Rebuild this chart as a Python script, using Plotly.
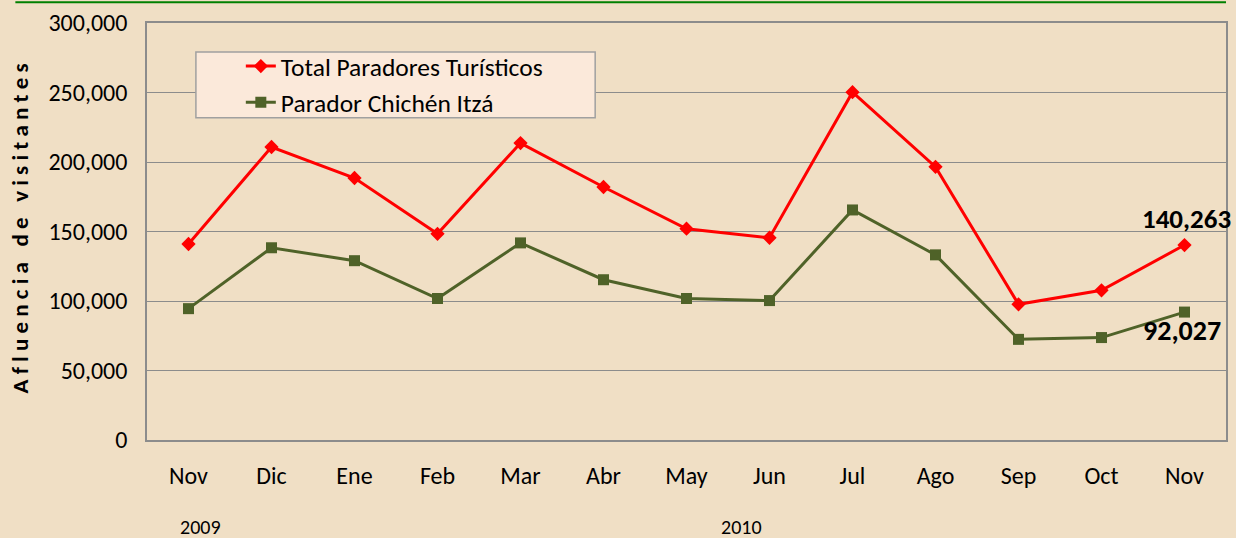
import plotly.graph_objects as go

months = ["Nov", "Dic", "Ene", "Feb", "Mar", "Abr", "May", "Jun", "Jul", "Ago", "Sep", "Oct", "Nov"]
total_paradores = [141000, 210800, 188500, 148300, 213600, 182000, 152000, 145500, 250200, 196500, 97600, 107700, 140263]
chichen_itza = [94500, 138300, 129000, 101800, 141800, 115300, 101800, 100300, 165500, 133200, 72400, 73700, 92027]
y_ticks = [0, 50000, 100000, 150000, 200000, 250000, 300000]
y_ticklabels = ["0", "50,000", "100,000", "150,000", "200,000", "250,000", "300,000"]
years = [("2009", 0.15), ("2010", 6.66)]

x = list(range(len(months)))
font = "Carlito, 'Open Sans', 'Liberation Sans', sans-serif"
BG = "#F0DFC5"

fig = go.Figure()
fig.add_trace(go.Scatter(
    x=x, y=total_paradores, name="Total Paradores Turísticos",
    mode="lines+markers", line=dict(color="#FF0000", width=3),
    marker=dict(symbol="diamond", size=11, color="#FF0000"),
))
fig.add_trace(go.Scatter(
    x=x, y=chichen_itza, name="Parador Chichén Itzá",
    mode="lines+markers", line=dict(color="#4F6228", width=3),
    marker=dict(symbol="square", size=11, color="#4F6228"),
))

fig.add_annotation(x=x[-1], y=total_paradores[-1], text="<b>{:,}</b>".format(total_paradores[-1]),
                   showarrow=False, xshift=2, yshift=27, font=dict(size=27, color="black", family=font))
fig.add_annotation(x=x[-1], y=chichen_itza[-1], text="<b>{:,}</b>".format(chichen_itza[-1]),
                   showarrow=False, xshift=-3, yshift=-18, font=dict(size=28, color="black", family=font))

for label, pos in years:
    fig.add_annotation(x=pos, y=0, xref="x", yref="paper", text=label, showarrow=False,
                       xanchor="center", yanchor="middle", yshift=-87,
                       font=dict(size=20, color="black", family=font))

fig.add_annotation(x=0, xref="paper", xshift=-127, y=0.5 + 3 / 418, yref="paper",
                   xanchor="center", yanchor="middle",
                   text="<b>A f l u e n c i a   d e   v i s i t a n t e s</b>",
                   textangle=-90, showarrow=False, font=dict(size=23, color="black", family=font))

fig.add_shape(type="line", xref="paper", yref="paper", x0=-0.122, x1=1.0, y0=1.05, y1=1.05,
              line=dict(color="#008000", width=2))

# legend box
fig.add_shape(type="rect", xref="paper", yref="paper", layer="above",
              x0=(196 - 147) / 1081, x1=(596 - 147) / 1081,
              y0=(440 - 117) / 418, y1=(440 - 51) / 418,
              fillcolor="#FBE9DA", line=dict(color="#A0A0A0", width=1.5))

fig.update_layout(
    width=1236, height=538,
    margin=dict(l=147, r=8, t=22, b=98),
    paper_bgcolor=BG, plot_bgcolor=BG,
    font=dict(family=font, size=24, color="black"),
    showlegend=True,
    legend=dict(x=(241 - 147) / 1081, y=(440 - 42) / 418, xanchor="left", yanchor="top",
                bgcolor="rgba(0,0,0,0)", borderwidth=0,
                font=dict(size=25.5, family=font), itemwidth=30,
                tracegroupgap=0),
    xaxis=dict(tickmode="array", tickvals=x, ticktext=months, range=[-0.5, 12.5],
               showgrid=False, showline=True, linecolor="#8C8C8C", linewidth=1.5, mirror=True,
               ticks="", ticklabelstandoff=13, zeroline=False,
               tickfont=dict(size=24, family=font)),
    yaxis=dict(tickmode="array", tickvals=y_ticks, ticktext=y_ticklabels, range=[0, 300000],
               showgrid=True, gridcolor="#8C8C8C", gridwidth=1,
               showline=True, linecolor="#8C8C8C", linewidth=1.5, mirror=True,
               ticks="", ticklabelstandoff=13, zeroline=False,
               tickfont=dict(size=24, family=font)),
)

fig.write_html("out.html", config={"displayModeBar": False},
               post_script="document.body.style.margin='0';document.body.style.padding='0';")
